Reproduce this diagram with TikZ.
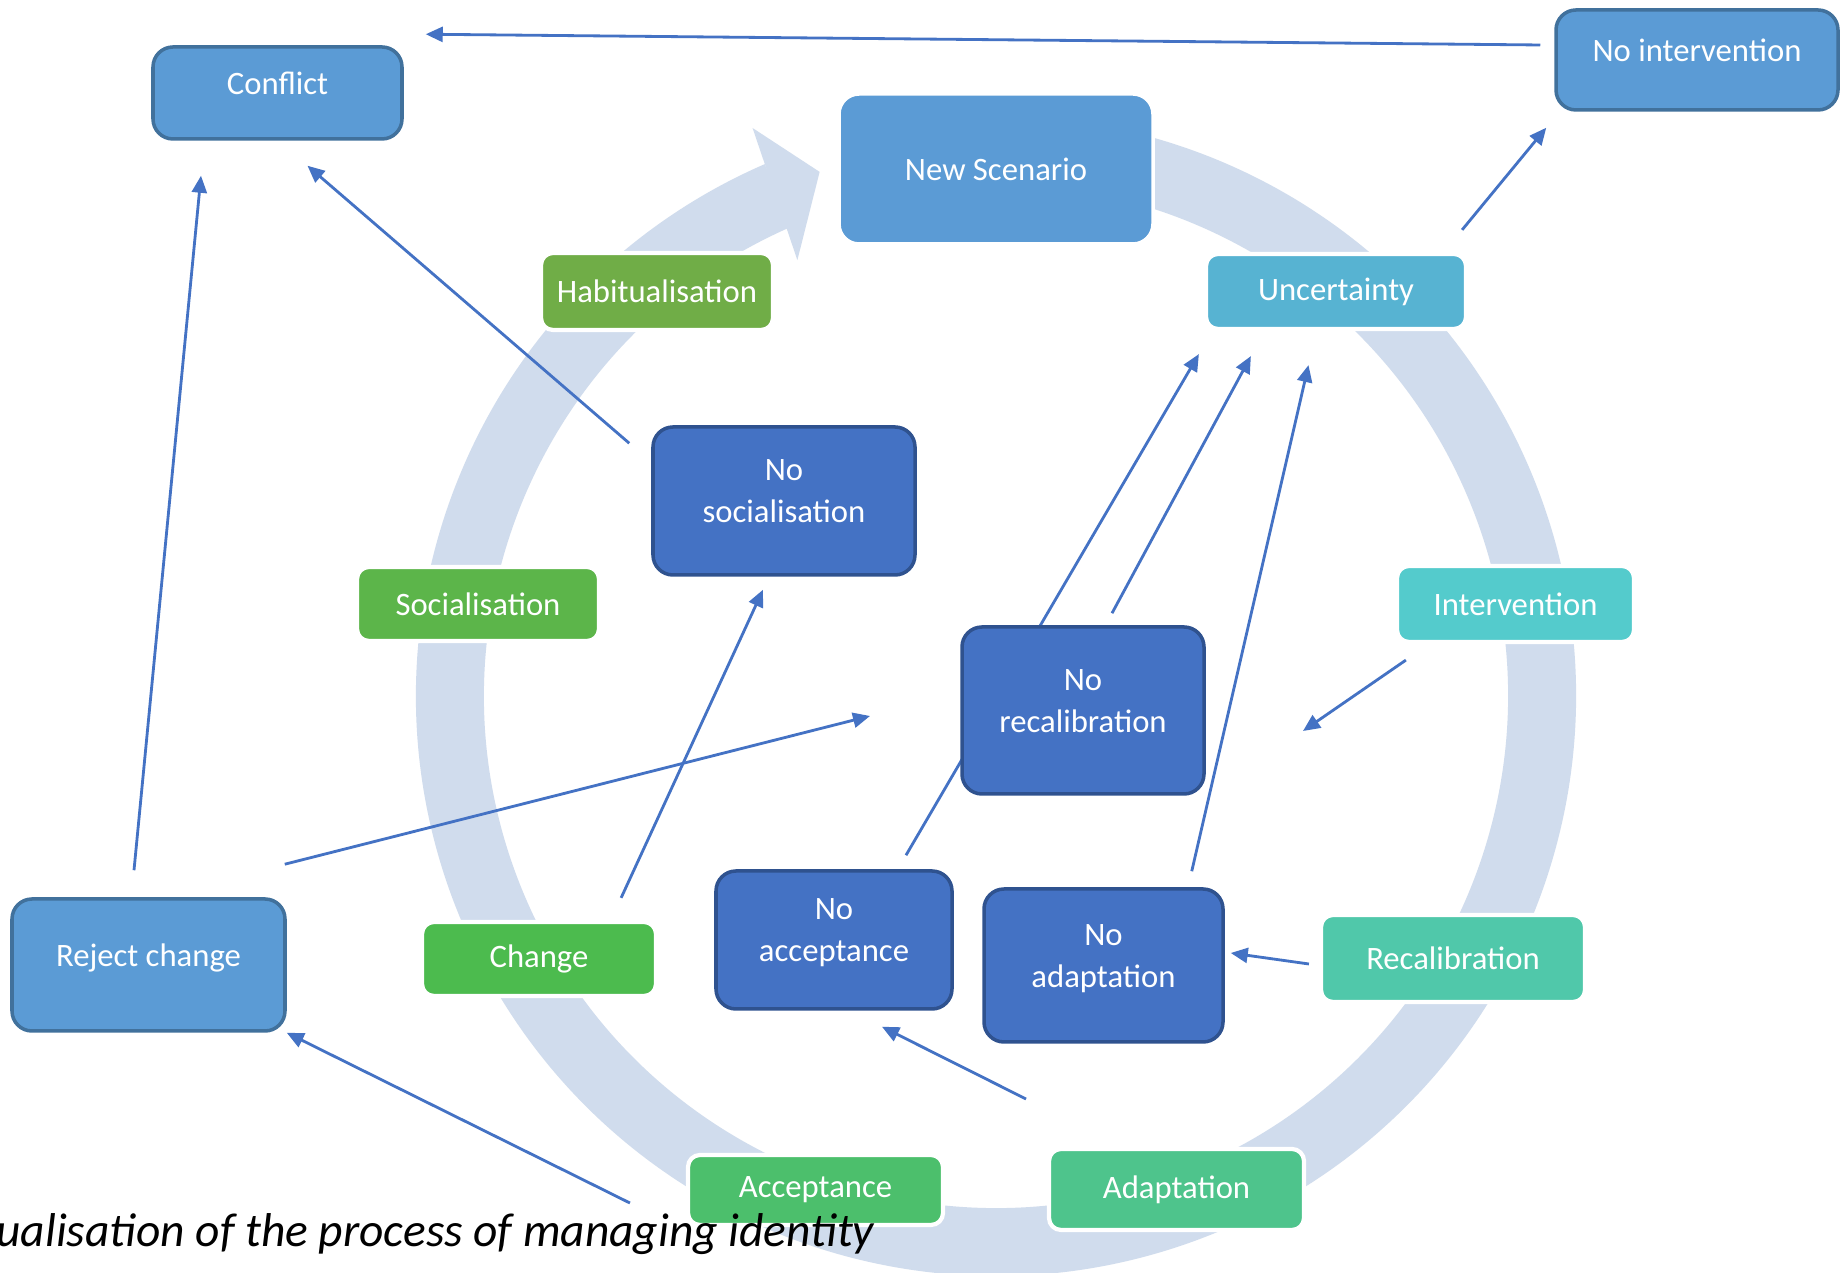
\documentclass[tikz,border=0pt]{standalone}
\usepackage{tikz}
\usepackage{xcolor}
\usepackage{fontspec}
\setmainfont{Carlito}
\usetikzlibrary{arrows.meta,backgrounds}
\definecolor{boxblue}{RGB}{91,155,213}
\definecolor{boxblueline}{RGB}{65,113,156}
\definecolor{noblue}{RGB}{68,114,196}
\definecolor{noblueline}{RGB}{47,82,143}
\definecolor{ringgrey}{RGB}{208,220,237}
\definecolor{arrowblue}{RGB}{68,114,196}
\definecolor{uncertcol}{RGB}{87,179,210}
\definecolor{intervcol}{RGB}{84,203,204}
\definecolor{recalcol}{RGB}{80,200,170}
\definecolor{adaptcol}{RGB}{78,196,140}
\definecolor{acceptcol}{RGB}{76,191,108}
\definecolor{changecol}{RGB}{76,187,78}
\definecolor{socialcol}{RGB}{92,181,74}
\definecolor{habitcol}{RGB}{112,173,71}

\begin{document}
\begin{tikzpicture}[font=\fontsize{9.3}{12}\selectfont]
    \tikzstyle{bluebox} = [rectangle, rounded corners=2mm, draw=boxblueline, line width=1pt, fill=boxblue, text=white, align=center, text depth=5.5pt]
    \tikzstyle{nobox} = [bluebox, draw=noblueline, fill=noblue]
    \tikzstyle{stage} = [rectangle, rounded corners=1.2mm, draw=white, line width=1.2pt, text=white, align=center]
    \tikzstyle{flow} = [draw=arrowblue, line width=0.8pt, -{Triangle[length=1.7mm,width=1.5mm]}]

    \useasboundingbox (0,0) rectangle (18.41,12.73);

    \node[bluebox, minimum width=2.49cm, minimum height=0.92cm] (conflict) at (2.775,11.80) {Conflict};
    \node[bluebox, minimum width=2.82cm, minimum height=1.00cm] (nointerv) at (16.97,12.13) {No intervention};
    \node[bluebox, minimum width=2.73cm, minimum height=1.32cm] (reject) at (1.485,3.08) {Reject change};
    \node[rectangle, rounded corners=2mm, draw=white, line width=1pt, fill=boxblue, text=white, minimum width=3.14cm, minimum height=1.50cm] (newscen) at (9.96,11.04) {New Scenario};

    \node[stage, fill=uncertcol, minimum width=2.60cm, minimum height=0.75cm] (uncert) at (13.36,9.815) {Uncertainty};
    \node[stage, fill=intervcol, minimum width=2.37cm, minimum height=0.76cm] (interv) at (15.155,6.69) {Intervention};
    \node[stage, fill=recalcol, minimum width=2.64cm, minimum height=0.87cm] (recal) at (14.53,3.145) {Recalibration};
    \node[stage, fill=adaptcol, minimum width=2.55cm, minimum height=0.81cm] (adapt) at (11.765,0.835) {Adaptation};
    \node[stage, fill=acceptcol, minimum width=2.55cm, minimum height=0.70cm] (accept) at (8.155,0.83) {Acceptance};
    \node[stage, fill=changecol, minimum width=2.34cm, minimum height=0.74cm] (change) at (5.39,3.14) {Change};
    \node[stage, fill=socialcol, minimum width=2.42cm, minimum height=0.74cm] (social) at (4.78,6.69) {Socialisation};
    \node[stage, fill=habitcol, minimum width=2.32cm, minimum height=0.77cm] (habit) at (6.57,9.815) {Habitualisation};

    \node[nobox, minimum width=2.62cm, minimum height=1.48cm] (nosocial) at (7.84,7.72) {No\\socialisation};
    \node[nobox, minimum width=2.42cm, minimum height=1.67cm] (norecal) at (10.83,5.625) {No\\recalibration};
    \node[nobox, minimum width=2.36cm, minimum height=1.38cm] (noaccept) at (8.34,3.33) {No\\acceptance};
    \node[nobox, minimum width=2.39cm, minimum height=1.53cm] (noadapt) at (11.035,3.075) {No\\adaptation};

    \coordinate (hub) at (9.96,5.77);
    \coordinate (rejtip) at (8.70,5.57);
    \coordinate (intip) at (13.03,5.42);
    \coordinate (adstart) at (10.26,1.74);

    \begin{pgfonlayer}{background}
        \fill[white] (0,0) rectangle (18.41,12.73);
        \clip (0,0) rectangle (18.41,12.73);
        \draw[ringgrey, line width=6.8mm] ([shift={(113.5:5.46)}]hub) arc[start angle=113.5, end angle=440, radius=5.46];
        \fill[ringgrey] ([shift={(114.5:4.79)}]hub) -- ([shift={(113.2:6.18)}]hub) -- ([shift={(108.6:5.53)}]hub) -- cycle;

        \draw[flow] ([shift={(-0.14,0.15)}]nointerv.west) -- ([shift={(0.22,0.11)}]conflict.north east);
        \draw[flow] ([shift={(-0.06,0.22)}]uncert.north east) -- ([shift={(-0.08,-0.16)}]nointerv.south west);
        \draw[flow] ([shift={(-0.22,-0.18)}]nosocial.north west) -- ([shift={(0.3,-0.25)}]conflict.south);
        \draw[flow] ([shift={(-0.145,0.27)}]reject.north) -- ([shift={(-0.765,-0.35)}]conflict.south);
        \draw[flow] ([shift={(-0.02,0.33)}]reject.north east) -- (rejtip);
        \draw[flow] ([shift={(-0.37,0.22)}]change.north east) -- ([shift={(-0.21,-0.13)}]nosocial.south);
        \draw[flow] ([shift={(0.72,0.14)}]noaccept.north) -- ([shift={(-0.05,-0.23)}]uncert.south west);
        \draw[flow] ([shift={(0.29,0.12)}]norecal.north) -- ([shift={(0.47,-0.25)}]uncert.south west);
        \draw[flow] ([shift={(-0.33,0.16)}]noadapt.north east) -- ([shift={(-0.275,-0.34)}]uncert.south);
        \draw[flow] ([shift={(0.11,-0.16)}]interv.south west) -- (intip);
        \draw[flow] ([shift={(-0.10,-0.055)}]recal.west) -- ([shift={(0.06,0.125)}]noadapt.east);
        \draw[flow] (adstart) -- ([shift={(0.48,-0.16)}]noaccept.south);
        \draw[flow] ([shift={(-0.56,-0.13)}]accept.west) -- (reject.south east);
    \end{pgfonlayer}

    \node[anchor=base east, inner sep=0pt, font=\fontsize{13.5}{16}\selectfont\itshape] (caption) at (8.75,0.26) {ualisation of the process of managing identity};
\end{tikzpicture}
\end{document}
